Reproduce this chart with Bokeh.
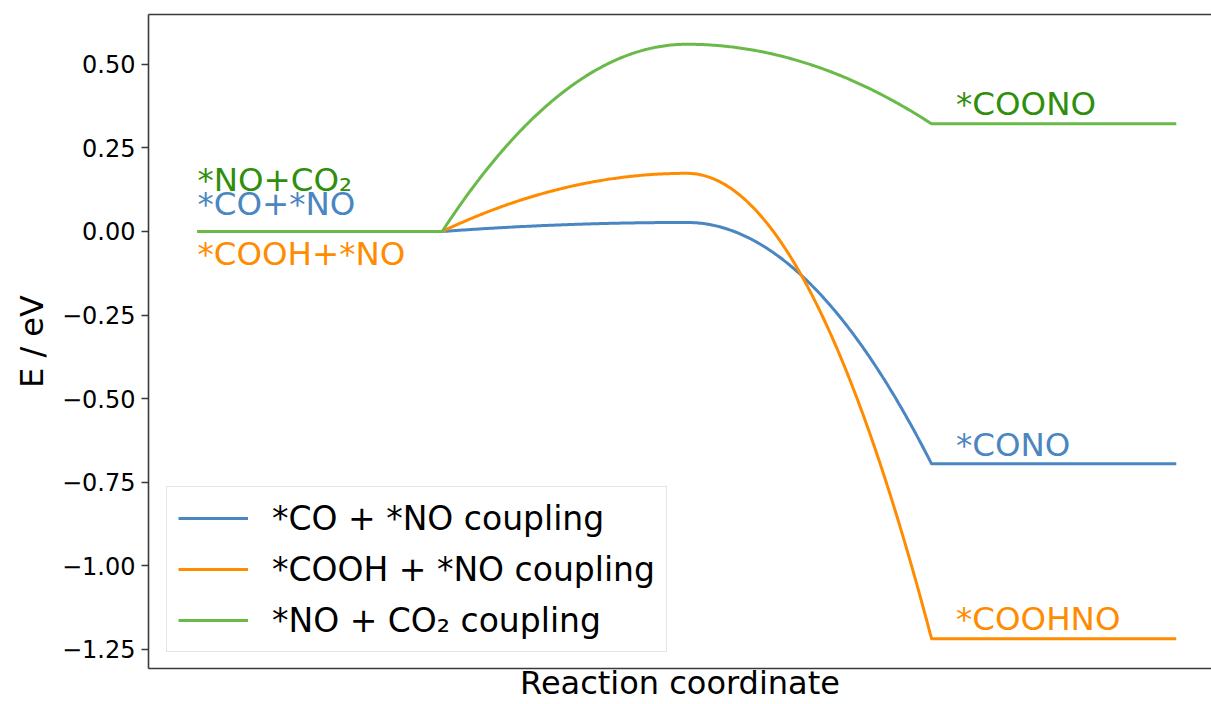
import numpy as np
from bokeh.plotting import figure
from bokeh.models import FixedTicker, LinearAxis, Legend, LegendItem, Range1d
from bokeh.core.properties import value
from bokeh.embed import file_html
from bokeh.resources import INLINE

# Reaction coordinate: initial state on [0, 1], transition state at 2, final state on [3, 4]
stage_x = [0, 1, 2, 3, 4]

pathways = ["*CO + *NO coupling", "*COOH + *NO coupling", "*NO + CO\u2082 coupling"]
initial_energy = [0.0, 0.0, 0.0]
ts_energy = [0.027, 0.174, 0.560]
final_energy = [-0.695, -1.218, 0.322]

line_colors = ["#4a86c2", "#ff8c00", "#6aba4a"]
text_colors = ["#4a86c2", "#ff8c00", "#2f8f0c"]

initial_labels = ["*CO+*NO", "*COOH+*NO", "*NO+CO\u2082"]
initial_label_y = [0.05, -0.10, 0.12]
final_labels = ["*CONO", "*COOHNO", "*COONO"]
final_label_x = 3.1
final_label_dy = 0.025

ytick_values = [0.5, 0.25, 0.0, -0.25, -0.5, -0.75, -1.0, -1.25]
ytick_labels = ["0.50", "0.25", "0.00", "\u22120.25", "\u22120.50", "\u22120.75", "\u22121.00", "\u22121.25"]

FONT = "DejaVu Sans"
FRAME_COLOR = "#3a3a3a"


def profile(e0, ets, ef, n=150):
    """Flat initial level, smooth rise to the TS, smooth fall to the flat final level."""
    t = np.linspace(0.0, 1.0, n)
    x_up = stage_x[1] + t * (stage_x[2] - stage_x[1])
    x_down = stage_x[2] + t * (stage_x[3] - stage_x[2])
    y_up = e0 + (ets - e0) * (1.0 - (1.0 - t) ** 2)
    y_down = ets + (ef - ets) * t ** 2
    x = np.concatenate([[stage_x[0]], x_up, x_down, [stage_x[4]]])
    y = np.concatenate([[e0], y_up, y_down, [ef]])
    return x, y


p = figure(
    width=1211, height=704,
    x_range=Range1d(-0.2, 4.144), y_range=Range1d(-1.307, 0.649),
    output_backend="svg", toolbar_location=None,
    min_border_left=148, min_border_right=0, min_border_top=14, min_border_bottom=36,
)
p.outline_line_color = None
p.background_fill_color = "white"
p.border_fill_color = "white"
p.xgrid.visible = False
p.ygrid.visible = False

renderers = []
for e0, ets, ef, col in zip(initial_energy, ts_energy, final_energy, line_colors):
    x, y = profile(e0, ets, ef)
    r = p.line(x, y, line_color=col, line_width=3, line_join="round")
    renderers.append(r)

# state labels
p.text(x=[stage_x[0]] * 3, y=initial_label_y, text=initial_labels,
       text_color=text_colors, text_font=value(FONT), text_font_size="32.5px",
       text_baseline="alphabetic", text_align="left", y_offset=-11)
p.text(x=[final_label_x] * 3, y=[e + final_label_dy for e in final_energy], text=final_labels,
       text_color=text_colors, text_font=value(FONT), text_font_size="32.5px",
       text_baseline="alphabetic", text_align="left", y_offset=-11)

# y axis
yax = p.yaxis[0]
yax.ticker = FixedTicker(ticks=ytick_values)
yax.major_label_overrides = {v: s for v, s in zip(ytick_values, ytick_labels)}
yax.major_label_text_font = FONT
yax.major_label_text_font_size = "24px"
yax.major_label_text_color = "black"
yax.major_tick_out = 7
yax.major_tick_in = 0
yax.minor_tick_out = 0
yax.minor_tick_in = 0
yax.major_label_standoff = 6
yax.major_tick_line_color = FRAME_COLOR
yax.major_tick_line_width = 1.5
yax.axis_line_color = FRAME_COLOR
yax.axis_line_width = 1.6
yax.axis_label = "E / eV"
yax.axis_label_text_font = FONT
yax.axis_label_text_font_size = "32px"
yax.axis_label_text_font_style = "normal"
yax.axis_label_text_color = "black"
yax.axis_label_standoff = 8

# bottom axis: frame line and title only
xax = p.xaxis[0]
xax.ticker = FixedTicker(ticks=[])
xax.major_tick_out = 0
xax.major_tick_in = 0
xax.minor_tick_out = 0
xax.minor_tick_in = 0
xax.major_label_text_font_size = "0px"
xax.major_label_standoff = 0
xax.axis_line_color = FRAME_COLOR
xax.axis_line_width = 1.6
xax.axis_label = "Reaction coordinate"
xax.axis_label_text_font = FONT
xax.axis_label_text_font_size = "32px"
xax.axis_label_text_font_style = "normal"
xax.axis_label_text_color = "black"
xax.axis_label_standoff = -5

# top frame line (right edge left open)
top = LinearAxis(ticker=FixedTicker(ticks=[]), major_tick_out=0, major_tick_in=0,
                 minor_tick_out=0, minor_tick_in=0, major_label_text_font_size="0px",
                 major_label_standoff=0,
                 axis_line_color=FRAME_COLOR, axis_line_width=1.6)
p.add_layout(top, "above")

legend = Legend(
    items=[LegendItem(label=name, renderers=[r]) for name, r in zip(pathways, renderers)],
    location=(18, 16),
    label_text_font=FONT, label_text_font_size="33px", label_text_color="black",
    glyph_width=70, glyph_height=40, label_height=40, label_standoff=24,
    spacing=11, padding=11, margin=0,
    border_line_color="#cccccc", border_line_width=1.2,
    background_fill_color="white", background_fill_alpha=0.8,
)
p.add_layout(legend, "center")

open("out.html", "w").write(file_html(p, INLINE))
